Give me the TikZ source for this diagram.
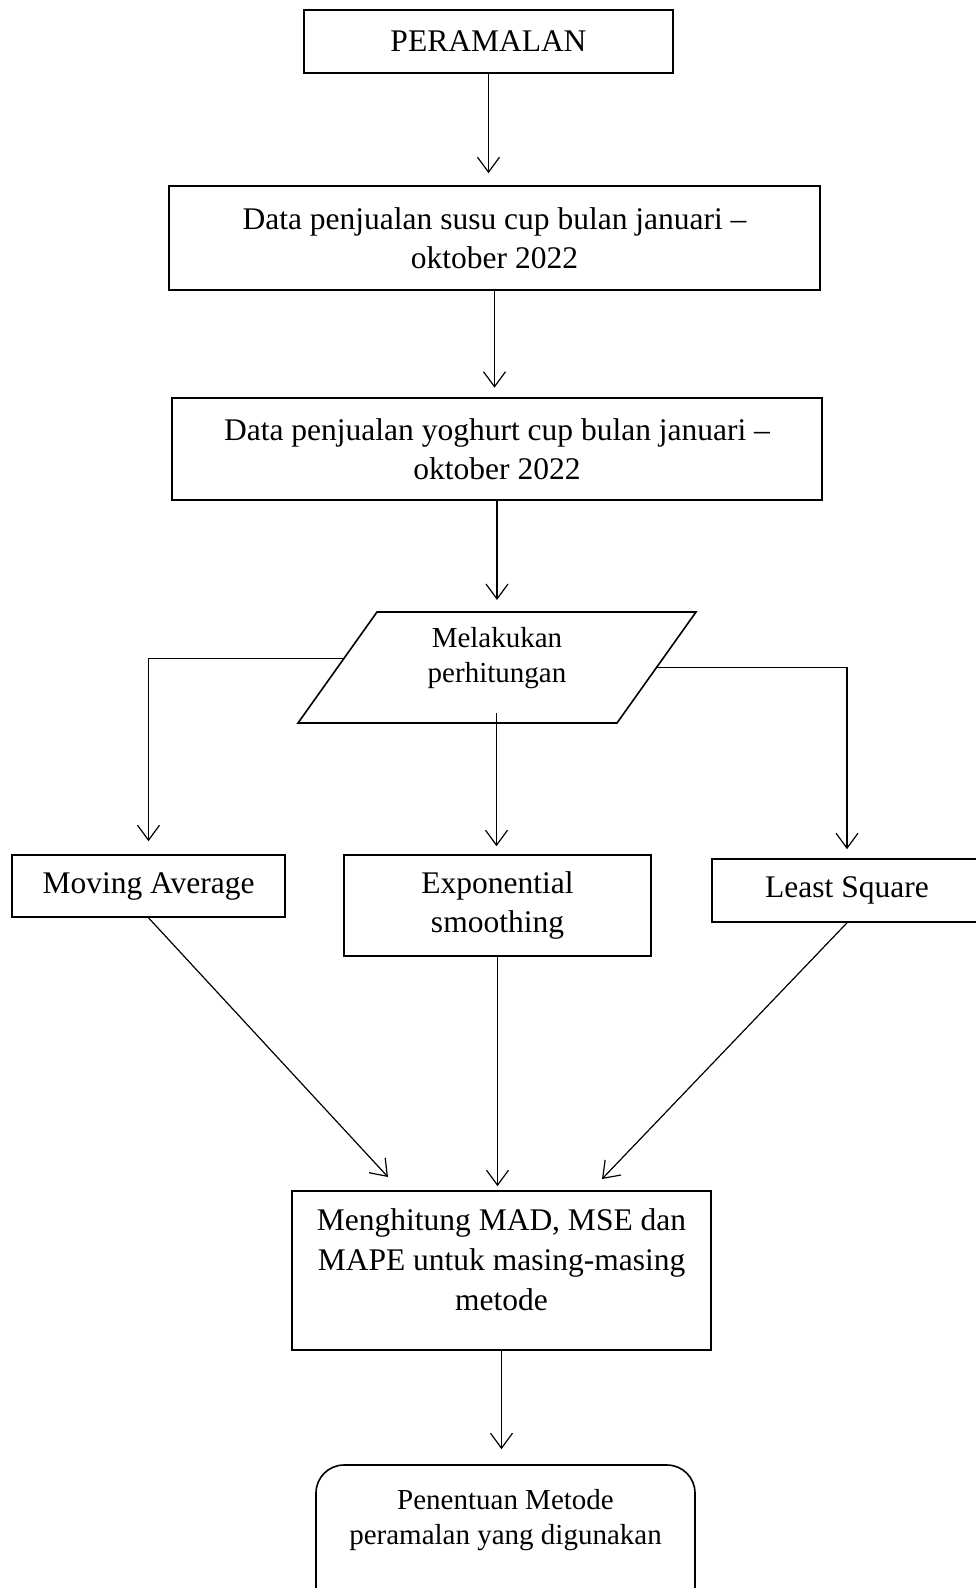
\documentclass[tikz,border=0pt]{standalone}
\usepackage{fontspec}
\setmainfont{Liberation Serif}
\usetikzlibrary{arrows.meta,calc}

\begin{document}
\begin{tikzpicture}[x=1pt,y=-1pt,
	kotak/.style={draw,line width=1.6pt,inner sep=0pt,align=center,font=\fontsize{31.5}{38.5}\selectfont},
	teks/.style={align=center,font=\fontsize{29}{35}\selectfont},
	panah/.style={-{Straight Barb[length=15pt,width=22pt]},line width=1.2pt}]
		\useasboundingbox (0,0) rectangle (976,1588);
		% kotak-kotak
		\node[kotak,minimum width=369,minimum height=63] (peramalan) at (488.5,41.5) {PERAMALAN};
		\node[kotak,minimum width=651,minimum height=104] (susu) at (494.5,238) {Data penjualan susu cup bulan januari --\\oktober 2022};
		\node[kotak,line width=2.6pt,minimum width=650,minimum height=102] (yoghurt) at (497,449) {Data penjualan yoghurt cup bulan januari --\\oktober 2022};
		% jajaran genjang
		\coordinate (pTL) at (377,612);
		\coordinate (pTR) at (696,612);
		\coordinate (pBR) at (617,723);
		\coordinate (pBL) at (298,723);
		\draw[line width=1.6pt,line join=miter] (pTL) -- (pTR) -- (pBR) -- (pBL) -- cycle;
		\node[teks] (hitungan) at (497,658) {Melakukan\\perhitungan};
		\node[kotak,minimum width=273,minimum height=62] (ma) at (148.5,886) {Moving Average};
		\node[kotak,minimum width=307,minimum height=101] (exp) at (497.5,905.5) {Exponential\\smoothing};
		\node[kotak,minimum width=270,minimum height=63] (ls) at (847,890.5) {Least Square};
		\node[kotak,minimum width=419,minimum height=159] (hitung) at (501.5,1270.5) {};
		\node[align=center,font=\fontsize{31.5}{40}\selectfont] (hitungteks) at (501.5,1260) {Menghitung MAD, MSE dan\\MAPE untuk masing-masing\\metode};
		\node[draw,line width=1.6pt,rounded corners=28pt,minimum width=379,minimum height=155] (hasil) at (505.5,1542.5) {};
		\node[teks] (hasilteks) at (505.5,1520) {Penentuan Metode\\peramalan yang digunakan};
		% titik bantu
		\coordinate (kiri) at ($(pTL)!0.42!(pBL)$);
		\coordinate (kanan) at ($(pTR)!0.5!(pBR)$);
		\coordinate (atas) at (yoghurt.south |- pTL);
		\coordinate (tengah) at (496.5,713);
		\coordinate (ujungA) at (388,1177);
		\coordinate (ujungC) at (602,1179);
		% panah
		\draw[panah,shorten >=12pt] (peramalan.south) -- (peramalan.south |- susu.north);
		\draw[panah,shorten >=9pt] (susu.south) -- (susu.south |- yoghurt.north);
		\draw[panah,shorten >=12pt] (yoghurt.south) -- (atas);
		\draw[panah,shorten >=13pt] (kiri) -- (kiri -| ma.north) -- (ma.north);
		\draw[panah,shorten >=8pt] (tengah) -- (tengah |- exp.north);
		\draw[panah,shorten >=9pt] (kanan) -- (kanan -| ls.north) -- (ls.north);
		\draw[panah] (ma.south) -- (ujungA);
		\draw[panah,shorten >=4pt] (exp.south) -- (exp.south |- hitung.north);
		\draw[panah] (ls.south) -- (ujungC);
		\draw[panah,shorten >=15pt] (hitung.south) -- (hitung.south |- hasil.north);
	\end{tikzpicture}
\end{document}
